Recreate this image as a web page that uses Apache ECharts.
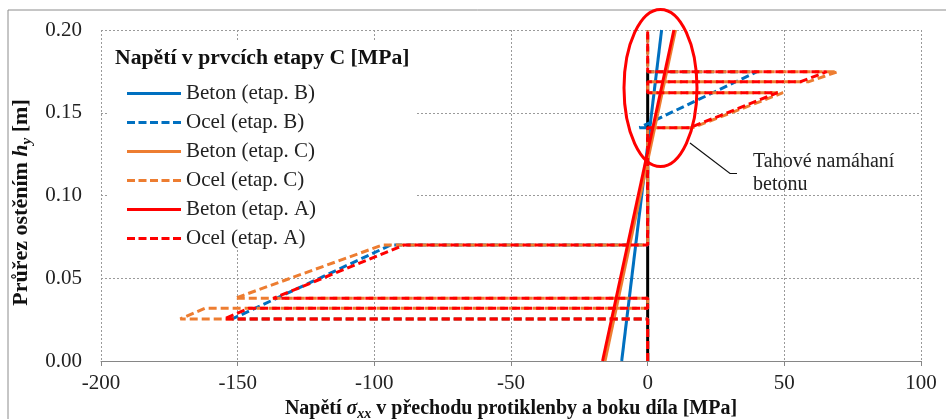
<!DOCTYPE html>
<html>
<head>
<meta charset="utf-8">
<script src="https://cdn.jsdelivr.net/npm/echarts@6/dist/echarts.min.js"></script>
<style>html,body{margin:0;padding:0;background:#fff;}#c{width:946px;height:419px;}</style>
</head>
<body>
<div id="c"></div>
<script>
// ---- data (x = stress [MPa], y = height h_y [m]) ----
const legendTitle = 'Napětí v prvcích etapy C [MPa]';
const seriesNames = ['Beton (etap. B)', 'Ocel (etap. B)', 'Beton (etap. C)', 'Ocel (etap. C)', 'Beton (etap. A)', 'Ocel (etap. A)'];
const xTicks = [-200, -150, -100, -50, 0, 50, 100];
const yTicks = [0, 0.05, 0.10, 0.15, 0.20];

const betonB = [[-9.5, 0], [5.1, 0.2]];
const ocelB = [[0, 0], [0, 0.0254], [-152, 0.0254], [-94, 0.0701], [0, 0.0701], [0, 0.141], [-3, 0.141], [40, 0.1748], [0, 0.1748], [0, 0.2]];
const betonC = [[-15.6, 0], [10.2, 0.2]];
const ocelC = [[0, 0], [0, 0.0254], [-171, 0.0254], [-162, 0.0318], [0, 0.0318], [0, 0.0379], [-151, 0.0379], [-97, 0.0701], [0, 0.0701], [0, 0.141], [16.5, 0.141], [49.5, 0.1621], [0, 0.1621], [0, 0.1688], [59, 0.1688], [69.5, 0.1748], [0, 0.1748], [0, 0.2]];
const betonA = [[-16.5, 0], [9.6, 0.2]];
const ocelA = [[0, 0], [0, 0.0254], [-155, 0.0254], [-146, 0.0318], [0, 0.0318], [0, 0.0379], [-137, 0.0379], [-89, 0.0701], [0, 0.0701], [0, 0.141], [15.5, 0.141], [47.5, 0.1621], [0, 0.1621], [0, 0.1688], [56, 0.1688], [65.5, 0.1748], [0, 0.1748], [0, 0.2]];
const zeroLine = [[0, 0], [0, 0.175]];

// ---- styles ----
const BLUE = '#0070C0', ORANGE = '#ED7D31', RED = '#FF0000';
const SERIF = '"Liberation Serif", "DejaVu Serif", serif';
const DASH = [8, 4];
const ICON_SOLID = 'path://M0,0h54v3h-54z';
const ICON_DASH = 'path://M0,0h8v3h-8z M11.5,0h8v3h-8z M23,0h8v3h-8z M34.5,0h8v3h-8z M46,0h8v3h-8z';

function mk(name, data, color, dashed) {
  return {
    name: name, type: 'line', data: data, symbol: 'none', showSymbol: false,
    lineStyle: { color: color, width: 3, type: dashed ? DASH : 'solid', cap: 'butt' },
    itemStyle: { color: color },
    emphasis: { disabled: true }, animation: false, z: 3
  };
}

const nameRich = (fs) => ({
  b: { fontFamily: SERIF, fontSize: fs, fontWeight: 'bold', color: '#111', lineHeight: fs + 4 },
  bi: { fontFamily: SERIF, fontSize: fs, fontWeight: 'bold', fontStyle: 'italic', color: '#111', lineHeight: fs + 4 },
  sub: { fontFamily: SERIF, fontSize: Math.round(fs * 0.7), fontWeight: 'bold', fontStyle: 'italic', color: '#111', lineHeight: 12, verticalAlign: 'bottom' }
});

const chart = echarts.init(document.getElementById('c'), null, { renderer: 'canvas' });
const option = {
  animation: false,
  backgroundColor: '#fff',
  grid: { left: 101, right: 25, top: 30, bottom: 58, containLabel: false, outerBoundsMode: 'none' },
  xAxis: {
    type: 'value', min: -200, max: 100, interval: 50,
    name: '{b|Napětí }{bi|σ}{sub|xx}{b| v přechodu protiklenby a boku díla [MPa]}',
    nameLocation: 'middle', nameGap: 33,
    nameTextStyle: { rich: nameRich(20) },
    axisLine: { show: true, onZero: false, lineStyle: { color: '#868686', width: 1 } },
    axisTick: { show: true, inside: false, length: 5, lineStyle: { color: '#868686' } },
    axisLabel: { fontFamily: SERIF, fontSize: 21, color: '#222', margin: 12 },
    splitLine: { show: true, lineStyle: { color: '#9a9a9a', type: [2, 2], width: 1 } }
  },
  yAxis: {
    type: 'value', min: 0, max: 0.2, interval: 0.05,
    name: '{b|Průřez ostěním }{bi|h}{sub|y}{b| [m]}',
    nameLocation: 'middle', nameGap: 66, nameRotate: 90,
    nameTextStyle: { rich: nameRich(22), padding: [0, 14, 0, 0] },
    axisLine: { show: false },
    axisTick: { show: false },
    axisLabel: { fontFamily: SERIF, fontSize: 21, color: '#222', margin: 19, formatter: v => v.toFixed(2) },
    splitLine: { show: true, lineStyle: { color: '#9a9a9a', type: [2, 2], width: 1 } }
  },
  title: {
    text: legendTitle, left: 115, top: 47, padding: 0,
    textStyle: { fontFamily: SERIF, fontSize: 21.7, fontWeight: 'bold', color: '#111' }, z: 6
  },
  legend: {
    orient: 'vertical', left: 127, top: 83, itemWidth: 54, itemHeight: 3, itemGap: 8, padding: 0,
    data: seriesNames.map((n, i) => ({ name: n, icon: i % 2 ? ICON_DASH : ICON_SOLID })),
    selectedMode: false,
    textStyle: { fontFamily: SERIF, fontSize: 21, color: '#222' },
    z: 5
  },
  graphic: [
    { type: 'rect', z: 1, shape: { x: 107, y: 42, width: 308, height: 205 }, style: { fill: '#fff' } },
    { type: 'rect', z: 100, shape: { x: 8, y: 10, width: 1000, height: 500 }, style: { fill: 'none', stroke: '#8c8c8c', lineWidth: 1 } },
    { type: 'ellipse', z: 100, shape: { cx: 660.5, cy: 88, rx: 36.5, ry: 78.5 }, style: { fill: 'none', stroke: RED, lineWidth: 3 } },
    { type: 'polyline', z: 100, shape: { points: [[690, 143], [730, 173.5], [737, 173.5]] }, style: { fill: 'none', stroke: '#111', lineWidth: 1.2 } },
    { type: 'text', z: 100, left: 753, top: 150, style: { text: 'Tahové namáhaní\nbetonu', font: '20px ' + SERIF, fill: '#222', lineHeight: 23 } }
  ],
  series: [
    { type: 'line', data: zeroLine, symbol: 'none', lineStyle: { color: '#000', width: 3 }, z: 2, silent: true, emphasis: { disabled: true } },
    mk(seriesNames[0], betonB, BLUE, false),
    mk(seriesNames[1], ocelB, BLUE, true),
    mk(seriesNames[2], betonC, ORANGE, false),
    mk(seriesNames[3], ocelC, ORANGE, true),
    mk(seriesNames[4], betonA, RED, false),
    mk(seriesNames[5], ocelA, RED, true)
  ]
};
chart.setOption(option);
</script>
</body>
</html>
